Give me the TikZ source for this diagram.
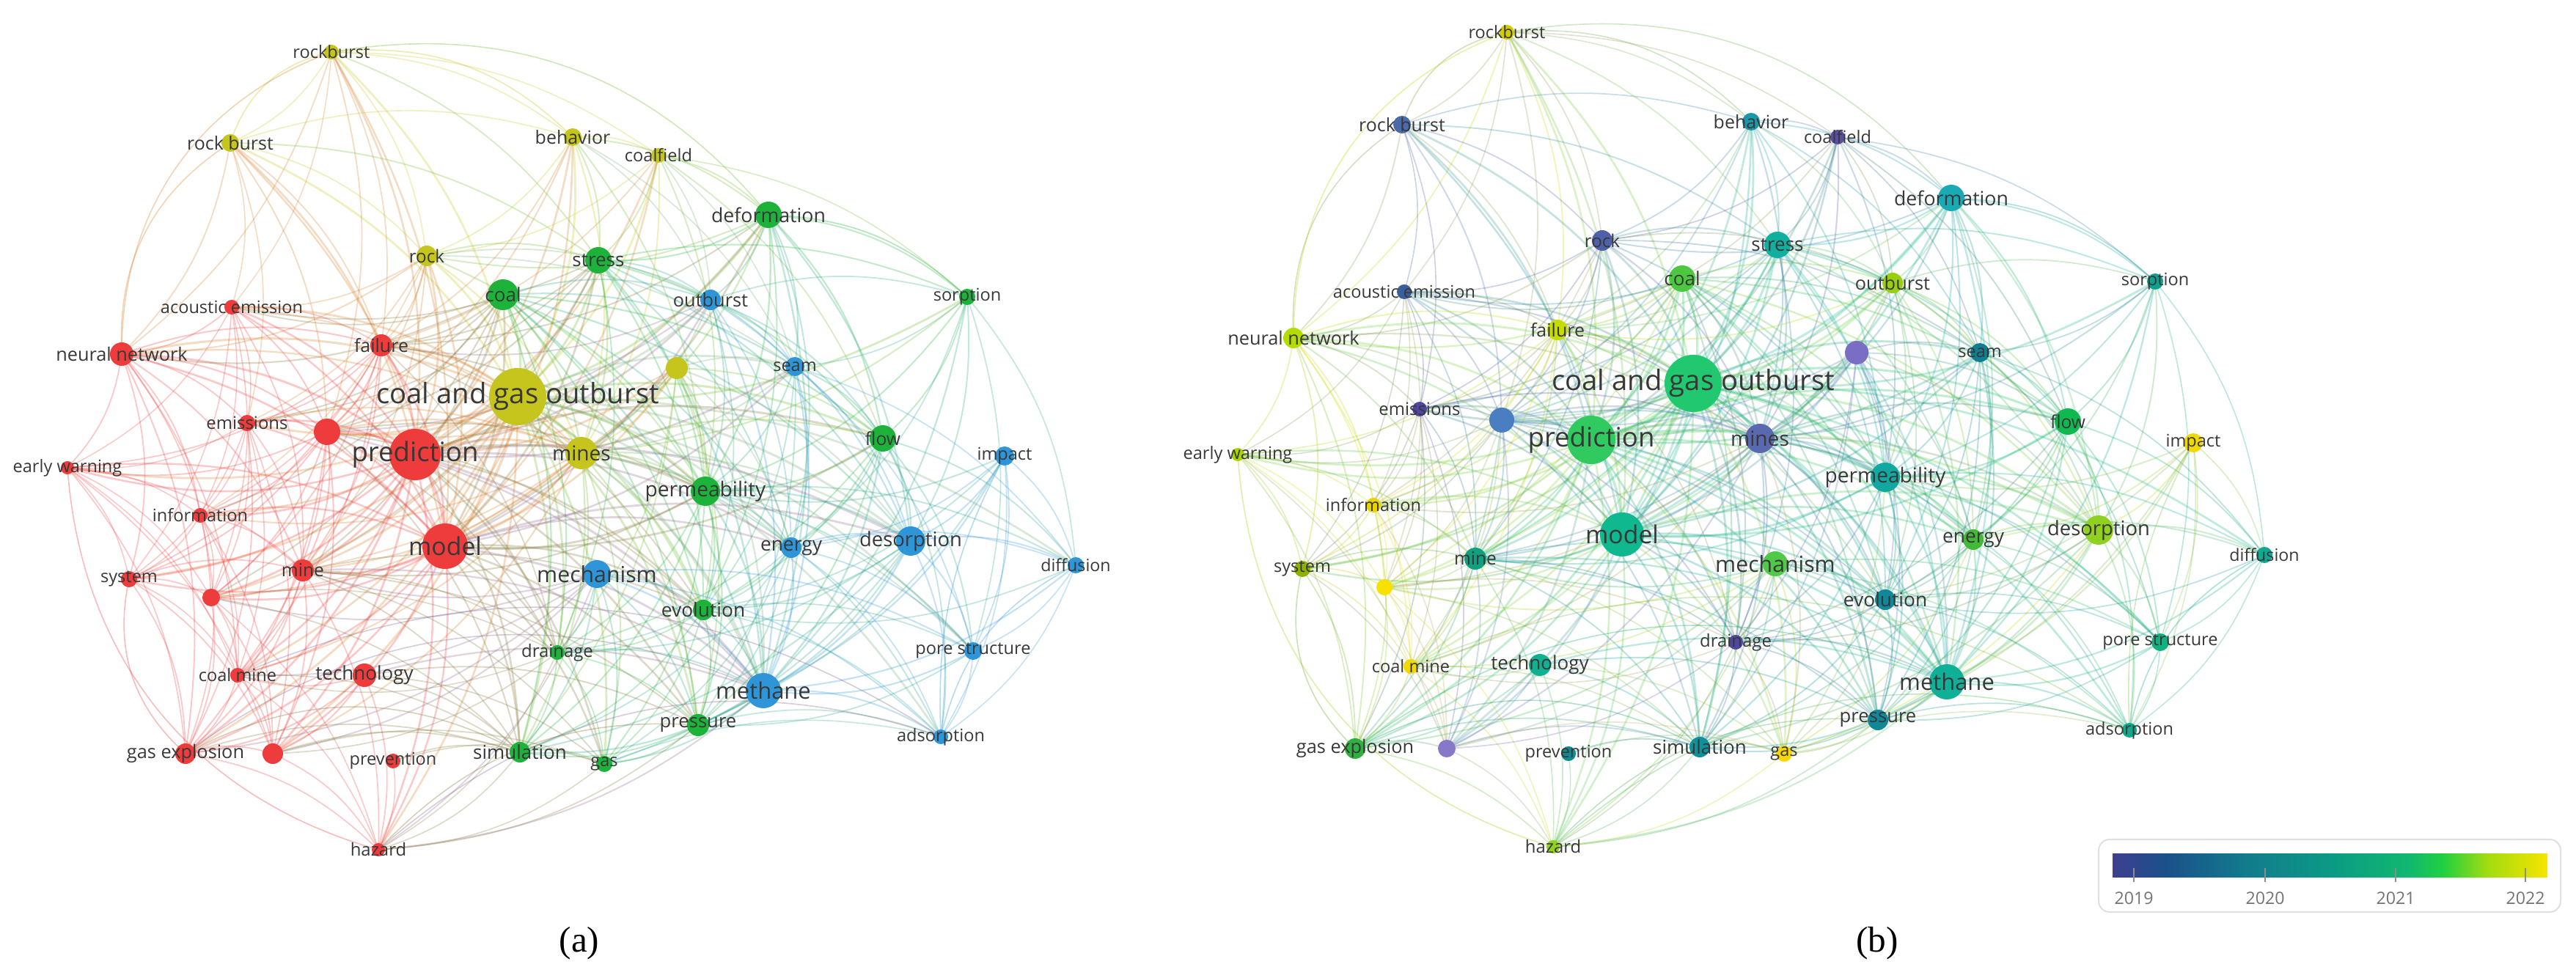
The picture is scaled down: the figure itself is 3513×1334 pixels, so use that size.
\documentclass[tikz,border=0pt]{standalone}
\usepackage{fontspec}
\setmainfont{Open Sans}
\newfontfamily\capfont{Liberation Serif}
\definecolor{cR}{HTML}{EE3B3B}
\definecolor{cG}{HTML}{1DB33A}
\definecolor{cB}{HTML}{2F95D9}
\definecolor{cY}{HTML}{C5C51E}
\definecolor{bc0}{HTML}{D2CB00}
\definecolor{bc1}{HTML}{4A6AAA}
\definecolor{bc2}{HTML}{1A98A8}
\definecolor{bc3}{HTML}{5A4EA0}
\definecolor{bc4}{HTML}{1AAAB4}
\definecolor{bc5}{HTML}{4E60A8}
\definecolor{bc6}{HTML}{10B0A0}
\definecolor{bc7}{HTML}{4CC840}
\definecolor{bc8}{HTML}{98D010}
\definecolor{bc9}{HTML}{10A090}
\definecolor{bc10}{HTML}{3A5E9C}
\definecolor{bc11}{HTML}{B4DC00}
\definecolor{bc12}{HTML}{C4DC00}
\definecolor{bc13}{HTML}{22C870}
\definecolor{bc14}{HTML}{7A6EC4}
\definecolor{bc15}{HTML}{107E90}
\definecolor{bc16}{HTML}{4E46A0}
\definecolor{bc17}{HTML}{4A7EC0}
\definecolor{bc18}{HTML}{30CA60}
\definecolor{bc19}{HTML}{5A68B0}
\definecolor{bc20}{HTML}{10B850}
\definecolor{bc21}{HTML}{F0D800}
\definecolor{bc22}{HTML}{A8D400}
\definecolor{bc23}{HTML}{10A8A0}
\definecolor{bc24}{HTML}{E8D200}
\definecolor{bc25}{HTML}{10B890}
\definecolor{bc26}{HTML}{44B838}
\definecolor{bc27}{HTML}{90D020}
\definecolor{bc28}{HTML}{50C848}
\definecolor{bc29}{HTML}{90B000}
\definecolor{bc30}{HTML}{10A080}
\definecolor{bc31}{HTML}{F8E000}
\definecolor{bc32}{HTML}{10A890}
\definecolor{bc33}{HTML}{108898}
\definecolor{bc34}{HTML}{5048A0}
\definecolor{bc35}{HTML}{10B090}
\definecolor{bc36}{HTML}{F0D800}
\definecolor{bc37}{HTML}{10B080}
\definecolor{bc38}{HTML}{10B098}
\definecolor{bc39}{HTML}{108898}
\definecolor{bc40}{HTML}{30B040}
\definecolor{bc41}{HTML}{8878C8}
\definecolor{bc42}{HTML}{108A90}
\definecolor{bc43}{HTML}{10909A}
\definecolor{bc44}{HTML}{F8D800}
\definecolor{bc45}{HTML}{10A888}
\definecolor{bc46}{HTML}{90D020}
\definecolor{v0}{HTML}{3F3F90}
\definecolor{v1}{HTML}{1B508A}
\definecolor{v2}{HTML}{127A8C}
\definecolor{v3}{HTML}{0B9A85}
\definecolor{v4}{HTML}{10B870}
\definecolor{v5}{HTML}{20D040}
\definecolor{v6}{HTML}{A0DC10}
\definecolor{v7}{HTML}{F8E400}
\pgfdeclarehorizontalshading{vbar}{100bp}{color(0bp)=(v0); color(25bp)=(v0); color(31bp)=(v1); color(40bp)=(v2); color(50bp)=(v3); color(59bp)=(v4); color(63bp)=(v5); color(68bp)=(v6); color(75bp)=(v7); color(100bp)=(v7)}
\pgfdeclarelayer{edges}
\pgfsetlayers{edges,main}
\tikzset{
  nd/.style={circle,inner sep=0pt,draw=none},
  lb/.style={text=black!78,inner sep=0pt},
  edgeline/.style={opacity=0.28,line cap=round},
  longarc/.style={opacity=0.35,line width=0.45pt}
}
\begin{document}
\begin{tikzpicture}[x=0.01cm,y=-0.01cm]
\useasboundingbox (0,0) rectangle (3513,1334);
% ---------------- panel (a) nodes
\foreach \i/\x/\y/\r/\c/\s/\t in {
0/452/71/10/cY/6.7/rockburst,
1/314/195/12/cY/7.1/rock burst,
2/781/187/12/cY/7.1/behavior,
3/898/212/10/cY/6.7/coalfield,
4/1048/293/18/cG/7.6/deformation,
5/582/349/14/cY/6.9/rock,
6/816/355/18/cG/7.4/stress,
7/686/402/21/cG/7.4/coal,
8/969/409/14/cB/7.2/outburst,
9/1319/405/11/cG/6.7/sorption,
10/316/419/10/cR/6.7/acoustic emission,
11/166/483/16/cR/7.2/neural network,
12/520/471/15/cR/7.1/failure,
13/706/541/39/cY/10.9/coal and gas outburst,
14/923/502/15/cY/7/{},
15/1084/500/13/cB/6.7/seam,
16/337/577/11/cR/6.8/emissions,
17/446/589/18/cR/7/{},
18/566/620/35/cR/10.4/prediction,
19/793/618/22/cY/8/mines,
20/1204/598/18/cG/7/flow,
21/1370/622/13/cB/6.7/impact,
22/92/638/9/cR/6.7/early warning,
23/962/670/20/cG/8/permeability,
24/273/703/10/cR/6.7/information,
25/607/745/31/cR/9.6/model,
26/1079/747/14/cB/7.5/energy,
27/1242/738/20/cB/7.8/desorption,
28/814/783/19/cB/8.6/mechanism,
29/176/790/11/cR/6.7/system,
30/413/778/15/cR/7/mine,
31/288/815/12/cR/7/{},
32/1467/771/11/cB/6.6/diffusion,
33/959/832/14/cG/7.5/evolution,
34/760/890/10/cG/6.8/drainage,
35/497/921/16/cR/7.4/technology,
36/324/921/10/cR/6.7/coal mine,
37/1327/888/12/cB/6.7/pore structure,
38/1041/942/24/cB/8.8/methane,
39/952/989/15/cG/7.3/pressure,
40/253/1028/14/cR/7.2/gas explosion,
41/372/1028/14/cR/7/{},
42/536/1038/10/cR/6.7/prevention,
43/709/1026/14/cG/7.4/simulation,
44/824/1042/11/cG/6.7/gas,
45/1283/1005/10/cB/6.7/adsorption,
46/516/1159/9/cR/6.8/hazard}{
  \node[nd,fill=\c,minimum size=\r*0.02cm,
        label={[lb,font=\fontsize{\s}{\s}\selectfont]center:\t}] (A\i) at (\x,\y) {};
  \expandafter\xdef\csname AX\i\endcsname{\x}
  \expandafter\xdef\csname AY\i\endcsname{\y}
  \expandafter\xdef\csname AR\i\endcsname{\r}
  \expandafter\xdef\csname AC\i\endcsname{\c}
  \expandafter\xdef\csname AS\i\endcsname{\s}
  \expandafter\xdef\csname AT\i\endcsname{\t}
}
% ---------------- panel (b) nodes
\foreach \i/\x/\y/\r in {
0/2055/44/10, 1/1912/170/12, 2/2388/166/12, 3/2506/187/10, 4/2661/270/18,
5/2185/328/14, 6/2424/334/18, 7/2294/380/18, 8/2581/386/14, 9/2939/384/11,
10/1915/398/10, 11/1764/461/14, 12/2124/450/14, 13/2309/523/39, 14/2532/481/16,
15/2700/481/13, 16/1936/558/10, 17/2048/573/17, 18/2170/600/33, 19/2400/598/20,
20/2820/575/18, 21/2991/604/13, 22/1688/620/9, 23/2571/651/20, 24/1873/689/10,
25/2212/729/30, 26/2691/736/14, 27/2862/723/20, 28/2421/769/17, 29/1776/776/11,
30/2012/762/15, 31/1888/801/11, 32/3088/757/11, 33/2571/818/14, 34/2367/876/10,
35/2100/907/15, 36/1924/909/10, 37/2946/876/12, 38/2655/930/24, 39/2561/982/14,
40/1848/1021/14, 41/1973/1021/12, 42/2139/1028/10, 43/2318/1019/14, 44/2433/1028/11,
45/2904/996/10, 46/2118/1155/9}{
  \node[nd,fill=bc\i,minimum size=\r*0.02cm,
        label={[lb,font=\fontsize{\csname AS\i\endcsname}{\csname AS\i\endcsname}\selectfont]center:\csname AT\i\endcsname}] (B\i) at (\x,\y) {};
}
% ---------------- connectors
\begin{pgfonlayer}{edges}
\foreach \i in {0,...,45}{
  \pgfmathtruncatemacro\ii{\i+1}
  \foreach \j in {\ii,...,46}{
    \pgfmathsetmacro\dd{veclen(\csname AX\i\endcsname-\csname AX\j\endcsname,\csname AY\i\endcsname-\csname AY\j\endcsname)}
    \pgfmathsetmacro\rr{\csname AR\i\endcsname+\csname AR\j\endcsname}
    \pgfmathtruncatemacro\ok{(\dd<(250+11*\rr))*(mod(\i*7+\j*11,7)>0)}
    \ifnum\ok=1
      \pgfmathsetmacro\ew{0.2+0.012*\rr}
      \edef\ecA{\csname AC\i\endcsname!50!\csname AC\j\endcsname}
      \draw[edgeline,draw=\ecA,line width=\ew pt] (A\i.center) to[bend left=17] (A\j.center);
      \draw[edgeline,draw=bc\i!50!bc\j,line width=\ew pt] (B\i.center) to[bend left=17] (B\j.center);
    \fi
  }
}
% long arcs
\foreach \p/\q/\b in {0/4/30, 0/1/-30, 1/11/-30, 0/2/25, 46/39/25, 46/45/30, 40/43/28, 22/46/-35, 29/40/-30, 4/9/20, 21/45/-15, 32/45/-25, 0/11/-35, 40/38/30, 36/45/28}{
  \edef\ecA{\csname AC\p\endcsname!50!\csname AC\q\endcsname}
  \draw[longarc,draw=\ecA] (A\p.center) to[bend left=\b] (A\q.center);
  \draw[longarc,draw=bc\p!50!bc\q] (B\p.center) to[bend left=\b] (B\q.center);
}
\end{pgfonlayer}
% ---------------- colour bar
\draw[black!12,line width=0.6pt,rounded corners=0.15cm] (2862,1145) rectangle (3492,1244);
\shade[shading=vbar] (2881,1164) rectangle (3474,1196);
\foreach \k/\xx in {2019/2910,2020/3089,2021/3267,2022/3444}{
  \draw[black!45,line width=0.45pt] (\xx,1184) -- (\xx,1203);
  \node[text=black!55,inner sep=0pt,font=\fontsize{6.6}{7}\selectfont] (yr\k) at (\xx,1225) {\k};
}
% ---------------- captions
\node[inner sep=0pt,font=\capfont\fontsize{14}{16}\selectfont] (capA) at (790,1287) {(a)};
\node[inner sep=0pt,font=\capfont\fontsize{14}{16}\selectfont] (capB) at (2560,1287) {(b)};
\end{tikzpicture}
\end{document}
